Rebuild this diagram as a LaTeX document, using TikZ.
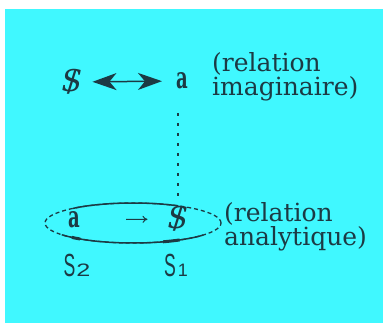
\documentclass[tikz,border=0pt]{standalone}
\usepackage{fontspec}
\setmainfont{DejaVu Serif}
\setsansfont{Liberation Sans}
\usetikzlibrary{arrows.meta, positioning, shapes.geometric, calc}

\definecolor{screencyan}{RGB}{64,248,255}
\definecolor{inkteal}{RGB}{28,58,68}
\newcommand{\barS}{\ooalign{\itshape S\cr\hidewidth/\hidewidth\cr}}
\newcommand{\boldA}{\scalebox{0.6}[1]{\bfseries a}}

\begin{document}
\begin{tikzpicture}[x=1pt, y=1pt, color=inkteal,
    glyph/.style={inner sep=0pt, font=\fontsize{30}{30}\selectfont},
    remark/.style={inner sep=0pt, anchor=north west, align=left,
                   font=\fontsize{25}{22}\selectfont},
    matheme/.style={inner sep=0pt, font=\sffamily\fontsize{32}{32}\selectfont},
    dotline/.style={line width=2pt, dash pattern=on 3pt off 7pt},
    solidarc/.style={line width=1.5pt},
    heavyarc/.style={line width=3pt}]
  \useasboundingbox (0,0) rectangle (383,-324);
  \fill[screencyan] (5,-9) rectangle (383,-323);

  % imaginary relation
  \node[glyph] (bSi) at (72,-82) {\barS};
  \node[glyph] (ai) at (182,-81) {\boldA};
  \node[remark] (imag) at (212,-52) {(relation\\imaginaire)};
  \draw[{Stealth[length=24pt,width=17pt,inset=7pt]}-{Stealth[length=24pt,width=17pt,inset=7pt]},
        line width=1.5pt, shorten <=10pt, shorten >=14pt] (bSi) -- (ai);

  % analytic relation
  \node[draw, ellipse, line width=1.3pt, dash pattern=on 4pt off 3pt,
        minimum width=176pt, minimum height=40pt, inner sep=0pt] (ring) at (133,-223) {};
  \node[glyph] (aii) at (74,-220) {\boldA};
  \node[glyph] (bSii) at (178,-219) {\barS};
  \node[remark] (anal) at (224,-202) {(relation\\analytique)};
  \draw[-{To[length=5pt,width=7pt]}, line width=1pt,
        shorten <=46pt, shorten >=20pt] (aii) -- (bSii);
  \draw[solidarc] ([shift={(133:88pt and 20pt)}]ring.center)
    arc[start angle=133, end angle=59, x radius=88pt, y radius=20pt];
  \draw[solidarc] ([shift={(216:88pt and 20pt)}]ring.center)
    arc[start angle=216, end angle=323, x radius=88pt, y radius=20pt];
  \draw[heavyarc] ([shift={(226:88pt and 20pt)}]ring.center)
    arc[start angle=226, end angle=233, x radius=88pt, y radius=20pt];
  \draw[heavyarc] ([shift={(290:88pt and 20pt)}]ring.center)
    arc[start angle=290, end angle=302, x radius=88pt, y radius=20pt];

  % link between the two
  \draw[dotline, shorten <=24pt, shorten >=10pt] (bSii.north |- ai.south) -- (bSii.north);

  % signifiers
  \node[matheme] (Stwo) at (77,-265) {\scalebox{0.55}[1]{S}\kern1pt{\fontsize{18}{18}\selectfont\scalebox{1.4}[1]{2}}};
  \node[matheme] (Sone) at (176,-265) {\scalebox{0.55}[1]{S}\kern2pt{\fontsize{18}{18}\selectfont 1}};
\end{tikzpicture}
\end{document}
